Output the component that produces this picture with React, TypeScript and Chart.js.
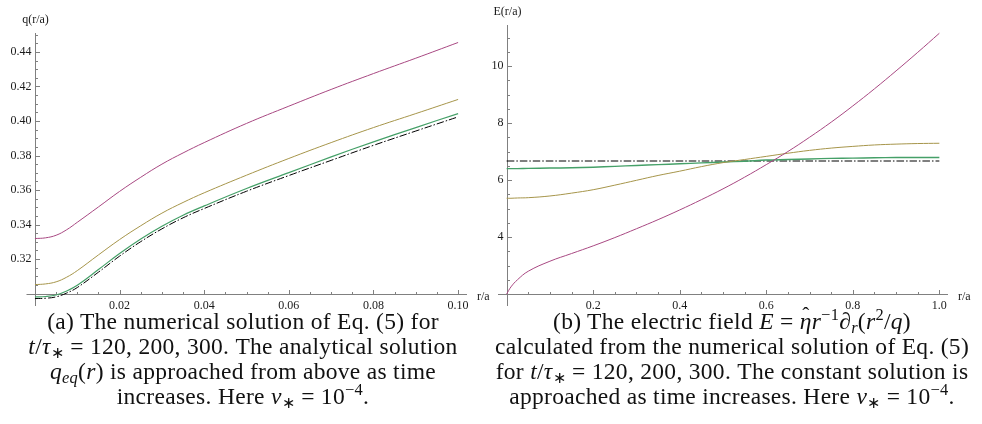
import React, { useEffect, useRef } from "react";
import { Chart, registerables } from "chart.js";

Chart.register(...registerables);

// ---------- Left panel: q(r/a) ----------
const qRadius = [0, 0.0025, 0.005, 0.0075, 0.01, 0.015, 0.02, 0.025, 0.03, 0.035, 0.04, 0.05, 0.06, 0.07, 0.08, 0.09, 0.1];
const qT120 = [0.3319, 0.3323, 0.3338, 0.337, 0.3413, 0.3502, 0.3592, 0.3674, 0.375, 0.3815, 0.3875, 0.3986, 0.4086, 0.4183, 0.4275, 0.4364, 0.4455];
const qT200 = [0.3052, 0.3056, 0.3068, 0.3095, 0.3133, 0.3224, 0.3313, 0.3393, 0.3466, 0.3528, 0.3584, 0.3686, 0.3783, 0.3875, 0.3962, 0.4043, 0.4125];
const qT300 = [0.2981, 0.2983, 0.2992, 0.3015, 0.3048, 0.3139, 0.3232, 0.3316, 0.339, 0.3454, 0.3508, 0.3609, 0.3701, 0.3792, 0.3879, 0.3962, 0.4043];
const qEq = [0.2971, 0.2973, 0.2981, 0.3003, 0.3035, 0.3124, 0.3217, 0.3301, 0.3375, 0.3439, 0.3493, 0.3593, 0.3684, 0.3772, 0.3859, 0.3942, 0.4024];

const qXMajor = [0.02, 0.04, 0.06, 0.08, 0.1];
const qXLabels = ["0.02", "0.04", "0.06", "0.08", "0.10"];
const qYMajor = [0.32, 0.34, 0.36, 0.38, 0.4, 0.42, 0.44];
const qYLabels = ["0.32", "0.34", "0.36", "0.38", "0.40", "0.42", "0.44"];

// ---------- Right panel: E(r/a) ----------
const eRadius = [0, 0.01, 0.025, 0.05, 0.1, 0.15, 0.2, 0.25, 0.3, 0.35, 0.4, 0.45, 0.5, 0.55, 0.6, 0.65, 0.7, 0.75, 0.8, 0.85, 0.9, 0.95, 1.0];
const eT120 = [2.0, 2.25, 2.5, 2.8, 3.15, 3.42, 3.69, 3.98, 4.29, 4.61, 4.95, 5.31, 5.69, 6.1, 6.54, 7.0, 7.5, 8.03, 8.6, 9.2, 9.83, 10.48, 11.15];
const eT200 = [5.36, 5.36, 5.37, 5.38, 5.44, 5.54, 5.66, 5.82, 5.99, 6.16, 6.31, 6.47, 6.61, 6.72, 6.83, 6.94, 7.04, 7.12, 7.18, 7.23, 7.26, 7.28, 7.29];
const eT300 = [6.4, 6.4, 6.4, 6.41, 6.42, 6.43, 6.45, 6.48, 6.51, 6.54, 6.57, 6.6, 6.63, 6.66, 6.7, 6.72, 6.74, 6.76, 6.77, 6.78, 6.79, 6.79, 6.79];
const eConstRadius = [0, 1.0];
const eConst = [6.667, 6.667];

const eXMajor = [0.2, 0.4, 0.6, 0.8, 1.0];
const eXLabels = ["0.2", "0.4", "0.6", "0.8", "1.0"];
const eYMajor = [4, 6, 8, 10];
const eYLabels = ["4", "6", "8", "10"];

const COL_MAGENTA = "#a84882";
const COL_OLIVE = "#a6954a";
const COL_GREEN = "#45a068";
const COL_BLACK = "#000000";
const AXIS_COL = "#808080";
const TEXT_COL = "#1a1a1a";
const TICK_FONT = "12px 'Liberation Serif', 'Times New Roman', serif";

type AxisSpec = {
  xCross: number;
  yCross: number;
  xMajor: number[];
  xLabels: string[];
  xMinorStep: number;
  xMinorMax: number;
  yMajor: number[];
  yLabels: string[];
  yMinorStep: number;
  yMinorMin: number;
  yMinorMax: number;
  xTitle: string;
  yTitle: string;
};

function makeAxesPlugin(spec: AxisSpec) {
  return {
    id: "mathAxes",
    beforeDatasetsDraw(chart: any) {
      const ctx = chart.ctx as CanvasRenderingContext2D;
      const xs = chart.scales.x;
      const ys = chart.scales.y;
      const area = chart.chartArea;
      const y0 = Math.round(ys.getPixelForValue(spec.xCross)) + 0.5;
      const x0 = Math.round(xs.getPixelForValue(spec.yCross)) + 0.5;
      ctx.save();
      ctx.strokeStyle = AXIS_COL;
      ctx.lineWidth = 1;
      ctx.beginPath();
      ctx.moveTo(area.left, y0);
      ctx.lineTo(area.right, y0);
      ctx.moveTo(x0, area.top);
      ctx.lineTo(x0, area.bottom);
      ctx.stroke();

      const isMajor = (v: number, arr: number[]) => arr.some((m) => Math.abs(m - v) < 1e-9);
      ctx.beginPath();
      const nx = Math.round(spec.xMinorMax / spec.xMinorStep);
      for (let i = 1; i <= nx; i++) {
        const v = spec.yCross + i * spec.xMinorStep;
        const px = Math.round(xs.getPixelForValue(v)) + 0.5;
        const len = isMajor(v, spec.xMajor) ? 4.5 : 2.5;
        ctx.moveTo(px, y0);
        ctx.lineTo(px, y0 - len);
      }
      const ny0 = Math.round((spec.yMinorMin - spec.xCross) / spec.yMinorStep);
      const ny1 = Math.round((spec.yMinorMax - spec.xCross) / spec.yMinorStep);
      for (let i = ny0; i <= ny1; i++) {
        if (i === 0) continue;
        const v = spec.xCross + i * spec.yMinorStep;
        const py = Math.round(ys.getPixelForValue(v)) + 0.5;
        const len = isMajor(v, spec.yMajor) ? 4.5 : 2.5;
        ctx.moveTo(x0, py);
        ctx.lineTo(x0 + len, py);
      }
      ctx.stroke();

      ctx.fillStyle = TEXT_COL;
      ctx.font = TICK_FONT;
      ctx.textAlign = "center";
      ctx.textBaseline = "middle";
      spec.xMajor.forEach((v, i) => {
        ctx.fillText(spec.xLabels[i], xs.getPixelForValue(v), y0 + 11);
      });
      ctx.textAlign = "right";
      spec.yMajor.forEach((v, i) => {
        ctx.fillText(spec.yLabels[i], x0 - 4, ys.getPixelForValue(v));
      });
      ctx.textAlign = "center";
      ctx.fillText(spec.yTitle, x0, area.top - 13);
      ctx.textAlign = "left";
      ctx.fillText(spec.xTitle, area.right + 10, y0 + 2);
      ctx.restore();
    },
  };
}

function series(xs: number[], ys: number[]) {
  return xs.map((x, i) => ({ x, y: ys[i] }));
}

type PanelProps = {
  left: number;
  width: number;
  height: number;
  datasets: any[];
  xMin: number;
  xMax: number;
  yMin: number;
  yMax: number;
  padding: { left: number; right: number; top: number; bottom: number };
  spec: AxisSpec;
};

function Panel(props: PanelProps) {
  const ref = useRef<HTMLCanvasElement | null>(null);
  useEffect(() => {
    if (!ref.current) return;
    const chart = new Chart(ref.current, {
      type: "line",
      data: { datasets: props.datasets },
      options: {
        animation: false,
        responsive: false,
        events: [],
        layout: { padding: props.padding },
        elements: { point: { radius: 0 } },
        plugins: { legend: { display: false }, tooltip: { enabled: false } },
        scales: {
          x: { type: "linear", min: props.xMin, max: props.xMax, display: false },
          y: { type: "linear", min: props.yMin, max: props.yMax, display: false },
        },
      },
      plugins: [makeAxesPlugin(props.spec)],
    } as any);
    return () => chart.destroy();
  }, []);
  return (
    <canvas
      ref={ref}
      width={props.width}
      height={props.height}
      style={{ position: "absolute", left: props.left, top: 0, width: props.width, height: props.height }}
    />
  );
}

const lineDs = (data: any[], color: string, dash?: number[], width = 1) => ({
  data,
  borderColor: color,
  borderWidth: width,
  borderDash: dash || [],
  fill: false,
  tension: 0.4,
  pointRadius: 0,
});

const subStyle: React.CSSProperties = { fontSize: "0.7em", lineHeight: 0, verticalAlign: "-0.25em" };
const supStyle: React.CSSProperties = { fontSize: "0.7em", lineHeight: 0, verticalAlign: "0.55em" };

function Sub(p: { children: any }) {
  return <span style={subStyle}>{p.children}</span>;
}
function Sup(p: { children: any }) {
  return <span style={supStyle}>{p.children}</span>;
}
function EtaHat() {
  return (
    <span style={{ position: "relative", display: "inline-block" }}>
      <i>η</i>
      <span style={{ position: "absolute", left: "0.12em", top: "-0.28em", fontSize: "0.9em" }}>ˆ</span>
    </span>
  );
}

const captionStyle: React.CSSProperties = {
  position: "absolute",
  top: 309,
  fontFamily: "'Liberation Serif', 'Times New Roman', serif",
  fontSize: 23.5,
  lineHeight: "25px",
  letterSpacing: "0.3px",
  textAlign: "center",
  color: "#111",
  whiteSpace: "nowrap",
};

export default function App() {
  const leftDatasets = [
    lineDs(series(qRadius, qT120), COL_MAGENTA),
    lineDs(series(qRadius, qT200), COL_OLIVE),
    lineDs(series(qRadius, qT300), COL_GREEN, undefined, 1.2),
    lineDs(series(qRadius, qEq), COL_BLACK, [7.5, 2, 1.5, 2]),
  ];
  const rightDatasets = [
    lineDs(series(eRadius, eT120), COL_MAGENTA),
    lineDs(series(eRadius, eT200), COL_OLIVE),
    lineDs(series(eRadius, eT300), COL_GREEN, undefined, 1.4),
    lineDs(series(eConstRadius, eConst), COL_BLACK, [7.5, 2, 1.5, 2]),
  ];
  const leftSpec: AxisSpec = {
    xCross: 0.3,
    yCross: 0,
    xMajor: qXMajor,
    xLabels: qXLabels,
    xMinorStep: 0.005,
    xMinorMax: 0.1,
    yMajor: qYMajor,
    yLabels: qYLabels,
    yMinorStep: 0.005,
    yMinorMin: 0.3,
    yMinorMax: 0.45,
    xTitle: "r/a",
    yTitle: "q(r/a)",
  };
  const rightSpec: AxisSpec = {
    xCross: 2,
    yCross: 0,
    xMajor: eXMajor,
    xLabels: eXLabels,
    xMinorStep: 0.05,
    xMinorMax: 1.0,
    yMajor: eYMajor,
    yLabels: eYLabels,
    yMinorStep: 0.5,
    yMinorMin: 2,
    yMinorMax: 11,
    xTitle: "r/a",
    yTitle: "E(r/a)",
  };
  return (
    <div style={{ position: "absolute", left: 0, top: 0, width: 982, height: 424, background: "#fff", overflow: "hidden" }}>
      <Panel
        left={0}
        width={490}
        height={315}
        datasets={leftDatasets}
        xMin={-0.002}
        xMax={0.1021}
        yMin={0.2928}
        yMax={0.451}
        padding={{ left: 26.5, right: 23, top: 33, bottom: 9 }}
        spec={leftSpec}
      />
      <Panel
        left={490}
        width={492}
        height={315}
        datasets={rightDatasets}
        xMin={-0.02}
        xMax={1.02}
        yMin={1.579}
        yMax={11.44}
        padding={{ left: 8, right: 34, top: 25, bottom: 9 }}
        spec={rightSpec}
      />
      <div style={{ ...captionStyle, left: 0, width: 486 }}>
        <div>(a) The numerical solution of Eq. (5) for</div>
        <div>
          <i>t</i>/<i>τ</i>
          <Sub>∗</Sub> = 120, 200, 300. The analytical solution
        </div>
        <div>
          <i>q</i>
          <Sub>
            <i>eq</i>
          </Sub>
          (<i>r</i>) is approached from above as time
        </div>
        <div>
          increases. Here <i>ν</i>
          <Sub>∗</Sub> = 10<Sup>−4</Sup>.
        </div>
      </div>
      <div style={{ ...captionStyle, left: 490, width: 484 }}>
        <div>
          (b) The electric field <i>E</i> = <EtaHat />
          <i>r</i>
          <Sup>−1</Sup>∂<Sub><i>r</i></Sub>(<i>r</i>
          <Sup>2</Sup>/<i>q</i>)
        </div>
        <div>calculated from the numerical solution of Eq. (5)</div>
        <div>
          for <i>t</i>/<i>τ</i>
          <Sub>∗</Sub> = 120, 200, 300. The constant solution is
        </div>
        <div>
          approached as time increases. Here <i>ν</i>
          <Sub>∗</Sub> = 10<Sup>−4</Sup>.
        </div>
      </div>
    </div>
  );
}
